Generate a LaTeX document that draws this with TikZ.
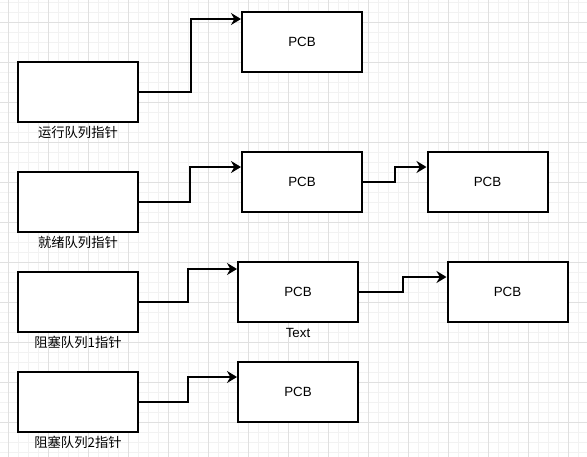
\documentclass[tikz,border=0pt]{standalone}
\usepackage{fontspec}
\setmainfont{Liberation Sans}
\newfontfamily\cjk{Noto Sans CJK SC}
\usetikzlibrary{arrows.meta}
\definecolor{gridminor}{HTML}{F2F2F2}
\definecolor{gridmajor}{HTML}{E0E0E0}
\tikzset{
  box/.style={draw=black, line width=1.5pt, fill=white, minimum width=90pt, minimum height=45pt, inner sep=0pt, font=\fontsize{10}{12}\selectfont},
  lbl/.style={font=\cjk\fontsize{10}{12}\selectfont, inner sep=0pt},
  conn/.style={line width=1.5pt, -{Stealth[length=7.5pt, width=9pt, inset=2.5pt]}},
}
\begin{document}
\begin{tikzpicture}[x=0.75pt, y=-0.75pt]
\useasboundingbox (0,0) rectangle (587,457);
\fill[white] (0,0) rectangle (587,457);
% grid
\foreach \x in {8,18,...,588} \draw[gridminor, line width=0.75pt] (\x,0) -- (\x,457);
\foreach \y in {2,12,...,457} \draw[gridminor, line width=0.75pt] (0,\y) -- (587,\y);
\foreach \x in {8,48,...,588} \draw[gridmajor, line width=0.75pt] (\x,0) -- (\x,457);
\foreach \y in {22,62,...,457} \draw[gridmajor, line width=0.75pt] (0,\y) -- (587,\y);

% pointer boxes
\node[box] (r1) at (78,92) {};
\node[box] (r2) at (78,202) {};
\node[box] (r3) at (78,302) {};
\node[box] (r4) at (78,402) {};
\node[lbl] (l1) at (78,132.5) {运行队列指针};
\node[lbl] (l2) at (78,242.5) {就绪队列指针};
\node[lbl] (l3) at (78,342.5) {阻塞队列1指针};
\node[lbl] (l4) at (78,442) {阻塞队列2指针};

% PCBs
\node[box] (p1) at (302,42) {PCB};
\node[box] (p2) at (302,182) {PCB};
\node[box] (p3) at (487.5,182) {PCB};
\node[box] (p4) at (298,292) {PCB};
\node[box] (p5) at (507.5,292) {PCB};
\node[box] (p6) at (298,392) {PCB};
\node[font=\fontsize{10}{12}\selectfont, inner sep=0pt] (t4) at (298,333) {Text};

% connector coordinates
\coordinate (e1) at ([yshift=17.25pt]p1.west);
\coordinate (e2) at ([yshift=11.25pt]p2.west);
\coordinate (e3) at ([yshift=11.25pt]p3.west);
\coordinate (e4) at ([yshift=17.25pt]p4.west);
\coordinate (e5) at ([yshift=11.25pt]p5.west);
\coordinate (e6) at ([yshift=11.25pt]p6.west);
\coordinate (m1) at (191,0);
\coordinate (m2) at (190,0);
\coordinate (m3) at (395,0);
\coordinate (m4) at (188,0);
\coordinate (m5) at (403,0);
\coordinate (m6) at (188,0);

\draw[conn] (r1.east) -- (m1 |- r1.east) -- (m1 |- e1) -- (e1);
\draw[conn] (r2.east) -- (m2 |- r2.east) -- (m2 |- e2) -- (e2);
\draw[conn] (p2.east) -- (m3 |- p2.east) -- (m3 |- e3) -- (e3);
\draw[conn] (r3.east) -- (m4 |- r3.east) -- (m4 |- e4) -- (e4);
\draw[conn] (p4.east) -- (m5 |- p4.east) -- (m5 |- e5) -- (e5);
\draw[conn] (r4.east) -- (m6 |- r4.east) -- (m6 |- e6) -- (e6);
\end{tikzpicture}
\end{document}
